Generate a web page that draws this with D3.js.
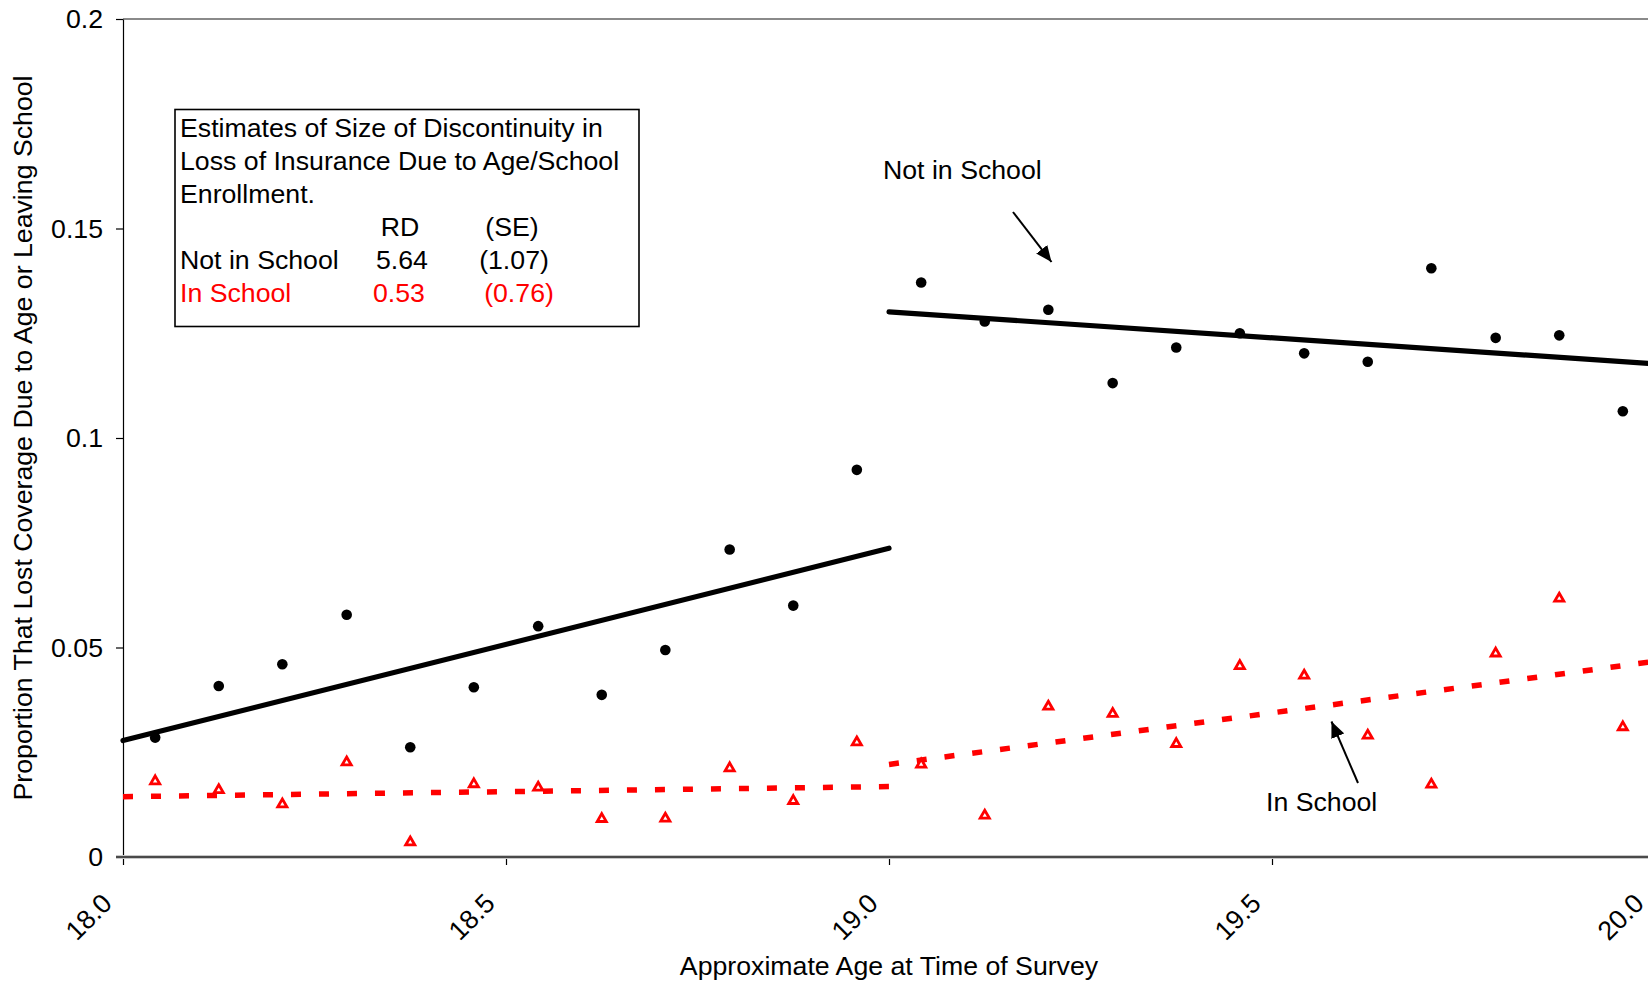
<!DOCTYPE html>
<html>
<head>
<meta charset="utf-8">
<script src="https://cdn.jsdelivr.net/npm/d3@7"></script>
<style>
  html, body { margin: 0; padding: 0; background: #fff; }
  svg { display: block; font-family: "Liberation Sans", Arial, sans-serif; }
</style>
</head>
<body>
<svg id="chart" width="1648" height="984"></svg>
<script>
// Monthly age bins (midpoints), 18.0 to 20.0
const ages = [18.042, 18.125, 18.208, 18.292, 18.375, 18.458, 18.542, 18.625, 18.708, 18.792, 18.875, 18.958,
              19.042, 19.125, 19.208, 19.292, 19.375, 19.458, 19.542, 19.625, 19.708, 19.792, 19.875, 19.958];

// Share losing coverage, by school status
const notInSchool = [0.0285, 0.0408, 0.0460, 0.0578, 0.0262, 0.0405, 0.0551, 0.0387, 0.0494, 0.0734, 0.0600, 0.0924,
                     0.1371, 0.1278, 0.1306, 0.1131, 0.1216, 0.1250, 0.1202, 0.1182, 0.1405, 0.1239, 0.1245, 0.1064];
const inSchool    = [0.0181, 0.0160, 0.0126, 0.0226, 0.0035, 0.0174, 0.0166, 0.0091, 0.0092, 0.0212, 0.0134, 0.0274,
                     0.0221, 0.0099, 0.0359, 0.0342, 0.0270, 0.0456, 0.0433, 0.0290, 0.0173, 0.0486, 0.0617, 0.0310];

// Fitted lines on each side of age 19 ([age, value] end points)
const notInSchoolFitBelow = [[18.0, 0.0278], [19.0, 0.0737]];
const notInSchoolFitAbove = [[19.0, 0.1301], [20.0, 0.1177]];
const inSchoolFitBelow    = [[18.0, 0.0144], [19.0, 0.0168]];
const inSchoolFitAbove    = [[19.0, 0.0221], [20.0, 0.0467]];

// Axis ticks
const yTicks = [0, 0.05, 0.1, 0.15, 0.2];
const yTickLabels = ["0", "0.05", "0.1", "0.15", "0.2"];
const xTicks = [18.0, 18.5, 19.0, 19.5, 20.0];
const xTickLabels = ["18.0", "18.5", "19.0", "19.5", "20.0"];

// Estimates table
const tableTitle = ["Estimates of Size of Discontinuity in", "Loss of Insurance Due to Age/School", "Enrollment."];
const tableHeader = ["RD", "(SE)"];
const tableRows = [
  { group: "Not in School", rd: "5.64", se: "(1.07)" },
  { group: "In School",     rd: "0.53", se: "(0.76)" }
];

const svg = d3.select("#chart");
const FS = 26.7;

const x = d3.scaleLinear().domain([18, 20]).range([123, 1655]);
const y = d3.scaleLinear().domain([0, 0.2]).range([857, 19]);

// Plot frame: top border
svg.append("line").attr("x1", x(18)).attr("x2", 1648).attr("y1", y(0.2)).attr("y2", y(0.2))
  .attr("stroke", "#8a8a8a").attr("stroke-width", 2.2);

// Y axis
const yAxis = svg.append("g").attr("transform", `translate(${x(18)},0)`)
  .call(d3.axisLeft(y).tickValues(yTicks).tickFormat((d, i) => yTickLabels[i]).tickSize(7).tickPadding(13).tickSizeOuter(0));
yAxis.select(".domain").attr("stroke", "#000").attr("stroke-width", 1.2);
yAxis.selectAll(".tick line").attr("stroke", "#000").attr("stroke-width", 1.2);
yAxis.selectAll("text").attr("font-size", FS).attr("fill", "#000").attr("font-family", "Liberation Sans, Arial, sans-serif");

// X axis
const xAxis = svg.append("g").attr("transform", `translate(0,${y(0)})`)
  .call(d3.axisBottom(x).tickValues(xTicks).tickFormat((d, i) => xTickLabels[i]).tickSize(8).tickSizeOuter(0));
xAxis.select(".domain").remove();
xAxis.selectAll(".tick line").attr("stroke", "#000").attr("stroke-width", 1.2);
xAxis.selectAll(".tick text")
  .attr("font-size", FS).attr("fill", "#000").attr("font-family", "Liberation Sans, Arial, sans-serif")
  .attr("text-anchor", "end").attr("dy", null).attr("y", null)
  .attr("transform", "translate(-10,48) rotate(-45)");

// Baseline at zero
svg.append("line").attr("x1", x(18) - 7).attr("x2", 1648).attr("y1", y(0)).attr("y2", y(0))
  .attr("stroke", "#c8c8c8").attr("stroke-width", 4);
svg.append("line").attr("x1", x(18) - 7).attr("x2", 1648).attr("y1", y(0)).attr("y2", y(0))
  .attr("stroke", "#4a4a4a").attr("stroke-width", 2.2);

// Axis titles
svg.append("text").attr("transform", `translate(32,${(y(0) + y(0.2)) / 2}) rotate(-90)`)
  .attr("text-anchor", "middle").attr("font-size", FS).attr("fill", "#000")
  .text("Proportion That Lost Coverage Due to Age or Leaving School");
svg.append("text").attr("x", (x(18) + x(20)) / 2).attr("y", 975)
  .attr("text-anchor", "middle").attr("font-size", FS).attr("fill", "#000")
  .text("Approximate Age at Time of Survey");

const line = d3.line().x(d => x(d[0])).y(d => y(d[1]));

// In-school fits (red dashed)
[inSchoolFitBelow, inSchoolFitAbove].forEach(seg => {
  svg.append("path").attr("d", line(seg)).attr("fill", "none")
    .attr("stroke", "#ff0000").attr("stroke-width", 5.5).attr("stroke-dasharray", "10,18");
});

// Not-in-school fits (black solid)
[notInSchoolFitBelow, notInSchoolFitAbove].forEach(seg => {
  svg.append("path").attr("d", line(seg)).attr("fill", "none")
    .attr("stroke", "#000").attr("stroke-width", 5.2).attr("stroke-linecap", "round");
});

// In-school points (red open triangles)
const tri = d3.symbol().type(d3.symbolTriangle).size(36);
svg.append("g").selectAll("path").data(ages).join("path")
  .attr("d", tri)
  .attr("transform", (d, i) => `translate(${x(d)},${y(inSchool[i])})`)
  .attr("fill", "#fff").attr("stroke", "#ff0000").attr("stroke-width", 2.8);

// Not-in-school points (black dots)
svg.append("g").selectAll("circle").data(ages).join("circle")
  .attr("cx", d => x(d)).attr("cy", (d, i) => y(notInSchool[i]))
  .attr("r", 5.3).attr("fill", "#000");

// Estimates box
const box = svg.append("g");
box.append("rect").attr("x", 175).attr("y", 109.5).attr("width", 464).attr("height", 217)
  .attr("fill", "#fff").attr("stroke", "#000").attr("stroke-width", 1.6);
tableTitle.forEach((t, i) => {
  box.append("text").attr("x", 180).attr("y", 137 + i * 33).attr("font-size", FS).attr("fill", "#000").text(t);
});
box.append("text").attr("x", 400).attr("y", 236).attr("text-anchor", "middle").attr("font-size", FS).text(tableHeader[0]);
box.append("text").attr("x", 512).attr("y", 236).attr("text-anchor", "middle").attr("font-size", FS).text(tableHeader[1]);
const rowColors = ["#000", "#ff0000"];
const rdX = [402, 399], seX = [514, 519];
tableRows.forEach((r, i) => {
  const yy = 269 + i * 33;
  box.append("text").attr("x", 180).attr("y", yy).attr("font-size", FS).attr("fill", rowColors[i]).text(r.group);
  box.append("text").attr("x", rdX[i]).attr("y", yy).attr("text-anchor", "middle").attr("font-size", FS).attr("fill", rowColors[i]).text(r.rd);
  box.append("text").attr("x", seX[i]).attr("y", yy).attr("text-anchor", "middle").attr("font-size", FS).attr("fill", rowColors[i]).text(r.se);
});

// Arrow annotations
svg.append("defs").append("marker")
  .attr("id", "head").attr("viewBox", "0 0 16 14").attr("refX", 16).attr("refY", 7)
  .attr("markerWidth", 16).attr("markerHeight", 14).attr("markerUnits", "userSpaceOnUse")
  .attr("orient", "auto")
  .append("path").attr("d", "M0,0 L16,7 L0,14 Z").attr("fill", "#000");

svg.append("text").attr("x", 883).attr("y", 179).attr("font-size", FS).attr("fill", "#000").text("Not in School");
svg.append("line").attr("x1", 1013).attr("y1", 212).attr("x2", 1051.5).attr("y2", 262)
  .attr("stroke", "#000").attr("stroke-width", 2).attr("marker-end", "url(#head)");

svg.append("text").attr("x", 1266).attr("y", 811).attr("font-size", FS).attr("fill", "#000").text("In School");
svg.append("line").attr("x1", 1358).attr("y1", 783).attr("x2", 1331.5).attr("y2", 721.5)
  .attr("stroke", "#000").attr("stroke-width", 2).attr("marker-end", "url(#head)");
</script>
</body>
</html>
